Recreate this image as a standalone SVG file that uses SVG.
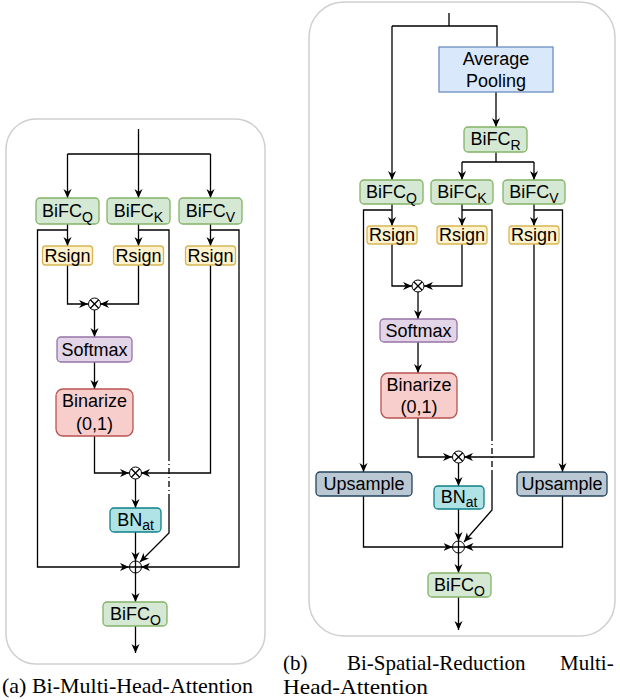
<svg xmlns="http://www.w3.org/2000/svg" width="620" height="700" viewBox="0 0 620 700">
<defs>
<marker id="arr" markerUnits="userSpaceOnUse" markerWidth="9" markerHeight="9" viewBox="0 0 10 10" refX="10" refY="5" orient="auto">
<path d="M0,0.5 L10,5 L0,9.5 L3,5 z" fill="#000"/>
</marker>
<style>
.panel{fill:#fff;stroke:#cfcfcf;stroke-width:1.5}
.ln{fill:none;stroke:#000;stroke-width:1.3}
.la{fill:none;stroke:#000;stroke-width:1.3;marker-end:url(#arr)}
.dash{fill:none;stroke:#000;stroke-width:1.3;stroke-dasharray:6 3 1 3}
.op{fill:#fff;stroke:#000;stroke-width:1}
.green{fill:#d5e8d4;stroke:#82b366;stroke-width:1.3}
.yellow{fill:#fff2cc;stroke:#d6b656;stroke-width:1.3}
.purple{fill:#e1d5e7;stroke:#9673a6;stroke-width:1.3}
.red{fill:#f8cecc;stroke:#b85450;stroke-width:1.3}
.blue{fill:#dae8fc;stroke:#6c8ebf;stroke-width:1.3}
.teal{fill:#b0e3e6;stroke:#0e8088;stroke-width:1.3}
.gray{fill:#bac8d3;stroke:#23445d;stroke-width:1.3}
.t{font-family:"Liberation Sans",Arial,sans-serif;font-size:18px;fill:#000;text-anchor:middle}
.sub{font-size:14px}
.cap{font-family:"Liberation Serif","Times New Roman",serif;font-size:21px;fill:#000}
</style>
</defs>

<rect class="panel" x="6" y="119" width="259" height="545" rx="30"/>
<rect class="panel" x="309" y="2" width="306" height="634" rx="35"/>

<g id="connectors">
<!-- left panel -->
<path class="ln" d="M138.5,129 V154 M67.5,154 H210.5"/>
<path class="la" d="M67.5,154 V198"/>
<path class="la" d="M138.5,154 V198"/>
<path class="la" d="M210.5,154 V198"/>
<path class="la" d="M67.5,224 V246"/>
<path class="la" d="M138.5,224 V246"/>
<path class="la" d="M210.5,224 V246"/>
<path class="la" d="M67.5,230 H37.5 V567 H129"/>
<path class="ln" d="M138.5,230 H169 V455"/>
<path class="dash" d="M169,455 V495"/>
<path class="la" d="M169,495 V533 L140,562"/>
<path class="la" d="M210.5,230 H239 V567 H141"/>
<path class="la" d="M67.5,265 V304 H88"/>
<path class="la" d="M138.5,265 V304 H100"/>
<path class="la" d="M94.5,310 V337"/>
<path class="la" d="M94.5,362 V389"/>
<path class="la" d="M94.5,436 V473 H129"/>
<path class="la" d="M210.5,265 V473 H141"/>
<path class="la" d="M135.5,479 V508"/>
<path class="la" d="M135.5,532 V561"/>
<path class="la" d="M135.5,573 V602"/>
<path class="la" d="M135.5,626 V653"/>
<!-- right panel -->
<path class="ln" d="M449,13 V26 M392,26 H497 V47"/>
<path class="la" d="M392,26 V180"/>
<path class="la" d="M496,92 V127"/>
<path class="ln" d="M496,152 V162 M462,162 H534"/>
<path class="la" d="M462,162 V180"/>
<path class="la" d="M534,162 V180"/>
<path class="la" d="M392,204 V226"/>
<path class="la" d="M462,204 V226"/>
<path class="la" d="M534,204 V226"/>
<path class="la" d="M392,210 H363.5 V472"/>
<path class="ln" d="M462,210 H492 V435"/>
<path class="dash" d="M492,435 V471"/>
<path class="la" d="M492,471 V510 L464,542"/>
<path class="la" d="M534,210 H562.5 V472"/>
<path class="la" d="M392,244 V286 H412"/>
<path class="la" d="M462,244 V286 H424"/>
<path class="la" d="M418,292 V319"/>
<path class="la" d="M418,342 V373"/>
<path class="la" d="M418,418 V457 H452"/>
<path class="la" d="M534,244 V457 H464"/>
<path class="la" d="M458.5,463 V486"/>
<path class="la" d="M458.5,509 V541"/>
<path class="la" d="M363.5,496 V547 H452.5"/>
<path class="la" d="M562.5,496 V547 H464.5"/>
<path class="la" d="M458.5,553 V573"/>
<path class="la" d="M458.5,597 V630"/>
</g>

<!-- left panel nodes -->
<g id="a-bifc-q"><rect class="green" x="36" y="198" width="63" height="26" rx="4"/><text class="t" x="67.5" y="217">BiFC<tspan class="sub" dy="5">Q</tspan></text></g>
<g id="a-bifc-k"><rect class="green" x="107" y="198" width="63" height="26" rx="4"/><text class="t" x="138.5" y="217">BiFC<tspan class="sub" dy="5">K</tspan></text></g>
<g id="a-bifc-v"><rect class="green" x="179" y="198" width="63" height="26" rx="4"/><text class="t" x="210.5" y="217">BiFC<tspan class="sub" dy="5">V</tspan></text></g>
<g id="a-rsign-q"><rect class="yellow" x="42.5" y="246" width="50" height="19" rx="3"/><text class="t" x="67.5" y="262">Rsign</text></g>
<g id="a-rsign-k"><rect class="yellow" x="113.5" y="246" width="50" height="19" rx="3"/><text class="t" x="138.5" y="262">Rsign</text></g>
<g id="a-rsign-v"><rect class="yellow" x="185.5" y="246" width="50" height="19" rx="3"/><text class="t" x="210.5" y="262">Rsign</text></g>
<g id="a-mul1"><circle class="op" cx="94.5" cy="304" r="6"/><path class="ln" stroke-width="1" d="M90.3,299.8 L98.7,308.2 M98.7,299.8 L90.3,308.2"/></g>
<g id="a-softmax"><rect class="purple" x="57" y="337" width="75" height="25" rx="4"/><text class="t" x="94.5" y="356">Softmax</text></g>
<g id="a-binarize"><rect class="red" x="56" y="389" width="77" height="47" rx="7"/><text class="t" x="94.5" y="407">Binarize</text><text class="t" x="94.5" y="430">(0,1)</text></g>
<g id="a-mul2"><circle class="op" cx="135.5" cy="473" r="6"/><path class="ln" stroke-width="1" d="M131.3,468.8 L139.7,477.2 M139.7,468.8 L131.3,477.2"/></g>
<g id="a-bn"><rect class="teal" x="110" y="508" width="51" height="24" rx="4"/><text class="t" x="135.5" y="526">BN<tspan class="sub" dy="4">at</tspan></text></g>
<g id="a-add"><circle class="op" cx="135.5" cy="567" r="6"/><path class="ln" stroke-width="1" d="M129.5,567 H141.5 M135.5,561 V573"/></g>
<g id="a-bifc-o"><rect class="green" x="103" y="602" width="64" height="24" rx="4"/><text class="t" x="135.5" y="620">BiFC<tspan class="sub" dy="5">O</tspan></text></g>

<!-- right panel nodes -->
<g id="b-avgpool"><rect class="blue" x="439" y="47" width="114" height="45"/><text class="t" x="496" y="65">Average</text><text class="t" x="496" y="87">Pooling</text></g>
<g id="b-bifc-r"><rect class="green" x="464" y="127" width="63" height="25" rx="4"/><text class="t" x="495.5" y="145">BiFC<tspan class="sub" dy="5">R</tspan></text></g>
<g id="b-bifc-q"><rect class="green" x="360" y="180" width="63" height="24" rx="4"/><text class="t" x="391.5" y="198">BiFC<tspan class="sub" dy="5">Q</tspan></text></g>
<g id="b-bifc-k"><rect class="green" x="431" y="180" width="62" height="24" rx="4"/><text class="t" x="462" y="198">BiFC<tspan class="sub" dy="5">K</tspan></text></g>
<g id="b-bifc-v"><rect class="green" x="503" y="180" width="62" height="24" rx="4"/><text class="t" x="534" y="198">BiFC<tspan class="sub" dy="5">V</tspan></text></g>
<g id="b-rsign-q"><rect class="yellow" x="367" y="226" width="50" height="18" rx="3"/><text class="t" x="392" y="241">Rsign</text></g>
<g id="b-rsign-k"><rect class="yellow" x="437" y="226" width="50" height="18" rx="3"/><text class="t" x="462" y="241">Rsign</text></g>
<g id="b-rsign-v"><rect class="yellow" x="509" y="226" width="50" height="18" rx="3"/><text class="t" x="534" y="241">Rsign</text></g>
<g id="b-mul1"><circle class="op" cx="418" cy="286" r="6"/><path class="ln" stroke-width="1" d="M413.8,281.8 L422.2,290.2 M422.2,281.8 L413.8,290.2"/></g>
<g id="b-softmax"><rect class="purple" x="380" y="319" width="77" height="23" rx="4"/><text class="t" x="418.5" y="337">Softmax</text></g>
<g id="b-binarize"><rect class="red" x="381" y="373" width="76" height="45" rx="7"/><text class="t" x="419" y="391">Binarize</text><text class="t" x="419" y="413">(0,1)</text></g>
<g id="b-mul2"><circle class="op" cx="458.5" cy="457" r="6"/><path class="ln" stroke-width="1" d="M454.3,452.8 L462.7,461.2 M462.7,452.8 L454.3,461.2"/></g>
<g id="b-upsample-l"><rect class="gray" x="316" y="472" width="96" height="24" rx="4"/><text class="t" x="364" y="490">Upsample</text></g>
<g id="b-upsample-r"><rect class="gray" x="517" y="472" width="90" height="24" rx="4"/><text class="t" x="562" y="490">Upsample</text></g>
<g id="b-bn"><rect class="teal" x="434" y="486" width="50" height="23" rx="4"/><text class="t" x="459" y="503">BN<tspan class="sub" dy="4">at</tspan></text></g>
<g id="b-add"><circle class="op" cx="458.5" cy="547" r="6"/><path class="ln" stroke-width="1" d="M452.5,547 H464.5 M458.5,541 V553"/></g>
<g id="b-bifc-o"><rect class="green" x="428" y="573" width="63" height="24" rx="4"/><text class="t" x="459.5" y="591">BiFC<tspan class="sub" dy="5">O</tspan></text></g>

<!-- captions -->
<text class="cap" x="2" y="693" textLength="251" lengthAdjust="spacingAndGlyphs">(a) Bi-Multi-Head-Attention</text>
<text class="cap" y="670"><tspan x="283">(b)</tspan><tspan x="347">Bi-Spatial-Reduction</tspan><tspan x="560">Multi-</tspan></text>
<text class="cap" x="283" y="694" textLength="145" lengthAdjust="spacingAndGlyphs">Head-Attention</text>
</svg>
